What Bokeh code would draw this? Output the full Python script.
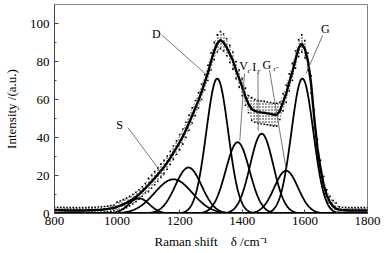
import numpy as np
from bokeh.plotting import figure
from bokeh.models import Range1d, FixedTicker
from bokeh.core.properties import value
from bokeh.embed import file_html
from bokeh.resources import INLINE

FONT = "Liberation Serif"

# Measured spectrum (smoothed fit line) read at 10 cm^-1 steps, 800..1800
raman_shift = list(range(800, 1801, 10))
fit_intensity = [
    1.8, 1.8, 1.7, 1.7, 1.6, 1.6, 1.6, 1.6, 1.6, 1.6, 1.6, 1.7, 1.7, 1.8, 1.9, 2.0,
    2.2, 2.4, 2.7, 3.0, 3.5, 4.1, 4.8, 5.6, 6.5, 7.5,
    8.7, 10.0, 11.6, 13.3, 15.0, 16.8, 18.6, 20.5, 22.5, 24.5,
    26.8, 29.3, 32.0, 34.7, 37.5, 40.5, 44.0, 47.8, 51.6, 55.5,
    59.5, 64.0, 69.0, 74.0, 80.0, 85.5, 89.5, 91.3, 90.0, 87.5,
    84.0, 80.5, 75.5, 71.0, 66.5, 61.5, 57.5, 55.0, 54.0, 53.5,
    53.2, 53.0, 52.7, 52.4, 52.0, 52.0, 54.0, 58.5, 63.0, 69.0,
    74.5, 81.0, 87.0, 89.5, 86.5, 80.0, 68.0, 50.0, 34.5, 23.5,
    15.0, 9.5, 6.0, 3.8, 2.5, 2.0, 1.8, 1.7, 1.6, 1.6,
    1.6, 1.6, 1.6, 1.6, 1.6,
]
# half-width of the scattered data cloud around the fit line
scatter_spread = [
    1.5, 1.5, 1.5, 1.5, 1.5, 1.5, 1.5, 1.5, 1.5, 1.5,
    1.5, 1.5, 1.5, 1.5, 1.5, 1.5, 1.5, 1.5, 1.5, 1.5,
    2.5, 2.5, 2.5, 2.5, 2.5, 2.5, 2.5, 2.5, 2.5, 2.5,
    3.5, 3.5, 3.5, 3.5, 3.5, 3.5, 3.5, 3.5, 3.5, 3.5,
    4.0, 4.0, 4.0, 4.0, 4.0, 4.0, 4.0, 4.0, 4.0, 4.0,
    4.5, 4.5, 4.5, 4.5, 4.5, 4.5, 4.5, 4.5, 4.5, 4.5, 4.5, 4.5, 4.5,
    6.0, 6.0, 6.0, 6.0, 6.0, 6.0, 6.0, 6.0, 6.0,
    4.5, 4.5, 4.5, 4.5, 4.5, 4.5, 4.5, 4.5, 4.5, 4.5, 4.5, 4.5, 4.5, 4.5, 4.5,
    3.0, 3.0, 3.0, 3.0,
    1.5, 1.5, 1.5, 1.5, 1.5, 1.5, 1.5, 1.5, 1.5, 1.5,
]

# Fitted Gaussian components (centre, height, sigma)
peak_centers = [1070, 1180, 1228, 1320, 1385, 1462, 1540, 1592]
peak_heights = [8.0, 18.0, 24.2, 71.0, 37.5, 42.0, 22.5, 71.0]
peak_sigmas = [33, 60, 42, 35, 38, 37, 38, 35]

# Peak labels and leader lines (data units)
label_text = ["S", "D", "V", "I", "G", "G"]
label_x = [1008, 1125, 1404, 1438, 1478, 1665]
label_y = [46.5, 94.6, 77.5, 77.0, 77.9, 97.0]
sub_text = ["r'", "I'", "r''"]
sub_x = [1417, 1447, 1500]
sub_y = [75.2, 74.6, 75.9]
leader_x0 = [1035, 1143, 1407, 1450, 1487, 1657]
leader_y0 = [45.1, 93.9, 73.8, 73.7, 75.4, 93.9]
leader_x1 = [1149, 1281, 1392, 1451, 1540, 1604]
leader_y1 = [19.8, 73.7, 38.4, 43.5, 23.4, 73.7]

x_ticks = [800, 1000, 1200, 1400, 1600, 1800]
x_minor = [900, 1100, 1300, 1500, 1700]
y_ticks = [0, 20, 40, 60, 80, 100]
y_minor = [10, 30, 50, 70, 90]

p = figure(width=385, height=253, x_range=Range1d(800, 1800), y_range=Range1d(0, 110),
           output_backend="svg", toolbar_location=None,
           min_border_left=52, min_border_right=18, min_border_top=4, min_border_bottom=40)
p.grid.visible = False
p.outline_line_color = "#808080"
p.outline_line_width = 1
p.background_fill_color = "white"
p.border_fill_color = "white"

for ax in (p.xaxis[0], p.yaxis[0]):
    ax.major_tick_in = 4
    ax.major_tick_out = 0
    ax.minor_tick_in = 2
    ax.minor_tick_out = 0
    ax.axis_line_color = "#444444"
    ax.major_tick_line_color = "#444444"
    ax.minor_tick_line_color = "#444444"
    ax.major_label_text_font = FONT
    ax.major_label_text_font_size = "13px"
    ax.major_label_text_color = "black"
    ax.axis_label_text_font = FONT
    ax.axis_label_text_font_size = "13px"
    ax.axis_label_text_font_style = "normal"
    ax.axis_label_text_color = "black"

p.xaxis.ticker = FixedTicker(ticks=x_ticks, minor_ticks=x_minor)
p.yaxis.ticker = FixedTicker(ticks=y_ticks, minor_ticks=y_minor)
p.xaxis.major_label_standoff = 3
p.yaxis.major_label_standoff = 5
p.xaxis.axis_label = "Raman shift\u00a0\u00a0\u00a0\u00a0\u03b4 /cm\u207b\u00b9"
p.yaxis.axis_label = "Intensity /(a.u.)"
p.xaxis.axis_label_standoff = 6
p.yaxis.axis_label_standoff = 8

# scattered data cloud
xs = np.array(raman_shift, dtype=float)
fit = np.array(fit_intensity)
spread = np.array(scatter_spread)
hi = fit + spread
lo = np.clip(fit - spread, 0.3, None)
p.varea(x=xs, y1=lo, y2=hi, fill_alpha=0, hatch_pattern="dot", hatch_scale=3,
        hatch_color="black", hatch_weight=1.2, hatch_alpha=0.9)
p.scatter(xs, hi, size=1.6, marker="square", color="black", line_width=0)
p.scatter(xs, lo, size=1.6, marker="square", color="black", line_width=0)

# fitted components
x_fine = np.arange(800, 1801, 2, dtype=float)
for c, h, s in zip(peak_centers, peak_heights, peak_sigmas):
    p.line(x_fine, h * np.exp(-(x_fine - c) ** 2 / (2.0 * s ** 2)), line_color="black", line_width=1.8)

# fit envelope
p.line(xs, fit, line_color="black", line_width=2.4)

# leader lines and labels
p.segment(x0=leader_x0, y0=leader_y0, x1=leader_x1, y1=leader_y1, line_color="#555555", line_width=0.8)
p.text(x=label_x, y=label_y, text=label_text, text_font=value(FONT), text_font_size="12px",
       text_align="center", text_baseline="middle", text_color="black")
p.text(x=sub_x, y=sub_y, text=sub_text, text_font=value(FONT), text_font_size="7px",
       text_align="left", text_baseline="middle", text_color="black")

open("out.html", "w").write(file_html(p, INLINE))
